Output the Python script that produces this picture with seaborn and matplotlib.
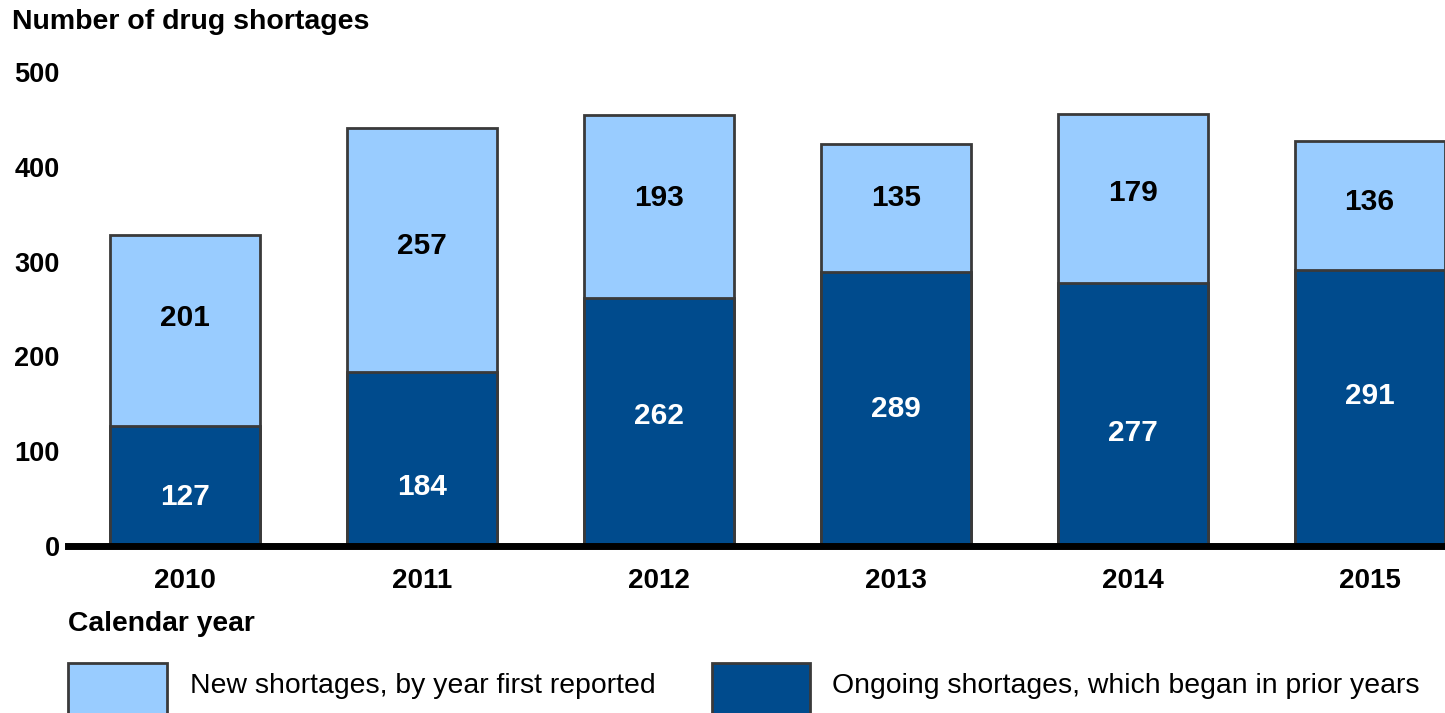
import matplotlib
matplotlib.use("Agg")
import matplotlib.pyplot as plt
import seaborn as sns
import pandas as pd
from matplotlib.patches import Rectangle

# ---- data ----
years = ["2010", "2011", "2012", "2013", "2014", "2015"]
ongoing = [127, 184, 262, 289, 277, 291]
new = [201, 257, 193, 135, 179, 136]
y_ticks = [0, 100, 200, 300, 400, 500]

# label anchor values (data units) for annotation text
ongoing_label_pos = [52, 62, 137, 144, 119, 158]
new_label_pos = [241, 316, 367, 367, 372, 363]

title = "Number of drug shortages"
xlabel = "Calendar year"
legend_new = "New shortages, by year first reported"
legend_ongoing = "Ongoing shortages, which began in prior years"

LIGHT = "#99CCFF"
DARK = "#004B8D"
EDGE = "#3a3a3a"

sns.set_theme(style="white")
plt.rcParams["font.family"] = ["Liberation Sans", "DejaVu Sans"]
plt.rcParams["text.color"] = "black"
plt.rcParams["xtick.color"] = "black"
plt.rcParams["ytick.color"] = "black"

df = pd.DataFrame({"year": years, "ongoing": ongoing, "new": new})
df["total"] = df["ongoing"] + df["new"]

fig = plt.figure(figsize=(14.45, 7.13), dpi=100)
ax = fig.add_axes([68 / 1445, (713 - 546) / 713, 1 - 68 / 1445, (546 - 72) / 713])

sns.barplot(data=df, x="year", y="total", color=LIGHT, saturation=1,
            edgecolor=EDGE, linewidth=2, width=0.633, ax=ax, zorder=1)
sns.barplot(data=df, x="year", y="ongoing", color=DARK, saturation=1,
            edgecolor=EDGE, linewidth=2, width=0.633, ax=ax, zorder=1)

ax.set_xlim(-0.494, 5.318)
ax.set_ylim(0, 500)
ax.set_yticks(y_ticks)
ax.set_yticklabels([str(v) for v in y_ticks], fontsize=19.5, fontweight="bold")
ax.set_xticks(range(len(years)))
ax.set_xticklabels(years, fontsize=20, fontweight="bold")
ax.tick_params(axis="both", length=0, colors="black", labelcolor="black")
ax.tick_params(axis="y", pad=6)
ax.tick_params(axis="x", pad=16)
ax.set_xlabel("")
ax.set_ylabel("")
for s in ["top", "right", "left"]:
    ax.spines[s].set_visible(False)
ax.spines["bottom"].set_color("black")
ax.spines["bottom"].set_linewidth(5)
ax.spines["bottom"].set_zorder(5)

for i in range(len(years)):
    ax.text(i, ongoing_label_pos[i], str(ongoing[i]), ha="center", va="center",
            color="white", fontsize=21.5, fontweight="bold")
    ax.text(i, new_label_pos[i], str(new[i]), ha="center", va="center",
            color="black", fontsize=21.5, fontweight="bold")

fig.text(12 / 1445, (713 - 22) / 713, title, ha="left", va="center",
         fontsize=20.5, fontweight="bold", color="black")
fig.text(68 / 1445, (713 - 624) / 713, xlabel, ha="left", va="center",
         fontsize=20.3, fontweight="bold", color="black")

# legend
W, H = 1445, 713
for x0, x1, col, tx, label in [(68, 167, LIGHT, 190, legend_new),
                                (712, 810, DARK, 832, legend_ongoing)]:
    fig.add_artist(Rectangle((x0 / W, -0.02), (x1 - x0) / W, (713 - 663) / H + 0.02,
                             transform=fig.transFigure, facecolor=col,
                             edgecolor=EDGE, linewidth=2))
    fig.text(tx / W, (713 - 686) / H, label, ha="left", va="center",
             fontsize=20.4, color="black")

fig.savefig("out.png", dpi=100)
